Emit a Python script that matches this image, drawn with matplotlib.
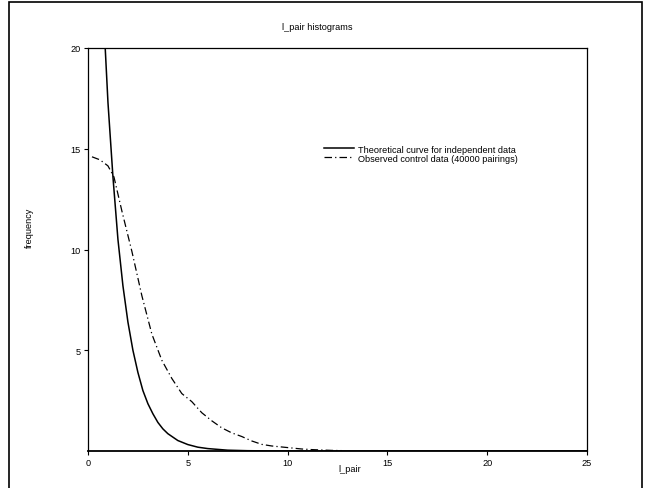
import matplotlib
matplotlib.use("Agg")
import matplotlib.pyplot as plt
from matplotlib.patches import Rectangle

plt.rcParams['font.family'] = ['Liberation Sans', 'DejaVu Sans']

# Theoretical curve for independent data
theo_x = [0.75, 1.0, 1.25, 1.5, 1.75, 2.0, 2.25, 2.5, 2.75, 3.0, 3.25, 3.5, 3.75, 4.0,
          4.5, 5.0, 5.5, 6.0, 7.0, 8.0, 9.0, 10.0, 12.0, 15.0, 25.0]
theo_y = [22.2, 17.3, 13.6, 10.5, 8.2, 6.4, 5.0, 3.9, 3.0, 2.35, 1.85, 1.42, 1.1, 0.86,
          0.52, 0.32, 0.19, 0.12, 0.04, 0.015, 0.005, 0.002, 0.0, 0.0, 0.0]

# Observed control data (40000 pairings)
obs_x = [0.2, 0.6, 1.0, 1.3, 1.7, 2.2, 2.7, 3.2, 3.7, 4.2, 4.7, 5.2, 5.7, 6.2, 6.7,
         7.2, 7.7, 8.2, 8.7, 9.2, 9.7, 10.2, 10.7, 11.2, 11.7, 12.2, 12.7]
obs_y = [14.6, 14.45, 14.15, 13.6, 11.9, 9.9, 7.7, 5.8, 4.5, 3.6, 2.85, 2.45, 1.9, 1.5, 1.15,
         0.9, 0.72, 0.5, 0.33, 0.25, 0.2, 0.15, 0.1, 0.07, 0.05, 0.03, 0.02]

x_ticks = [0, 5, 10, 15, 20, 25]
y_ticks = [5, 10, 15, 20]

fig = plt.figure(figsize=(6.45, 4.89), dpi=100)
W, H = 645, 489
ax = fig.add_axes([88 / W, 1 - 452 / H, (587 - 88) / W, (452 - 49) / H])

fs = 6.6
ax.plot(theo_x, theo_y, color='black', lw=1.1, solid_joinstyle='round',
        label='Theoretical curve for independent data')
ax.plot(obs_x, obs_y, color='black', lw=0.9, dashes=(6, 2.5, 1, 2.5),
        label='Observed control data (40000 pairings)')

ax.set_xlim(0, 25)
ax.set_ylim(0, 20)
ax.set_xticks(x_ticks)
ax.set_yticks(y_ticks)
ax.tick_params(direction='out', length=3, width=0.8, labelsize=fs, pad=2)
for s in ax.spines.values():
    s.set_linewidth(0.9)
ax.spines['bottom'].set_linewidth(1.3)

fig.text(317 / W, 1 - 28 / H, 'l_pair histograms', fontsize=fs,
         ha='center', va='center')
fig.text(350 / W, 1 - 470 / H, 'l_pair', fontsize=fs, ha='center', va='center')
fig.text(29 / W, 1 - 228 / H, 'frequency', fontsize=fs, ha='center', va='center',
         rotation=90)

leg = ax.legend(loc='upper left', bbox_to_anchor=((319 - 88) / 499, (452 - 141) / 403),
                frameon=False, fontsize=fs, handlelength=3.3, handletextpad=0.4,
                labelspacing=0.0, borderpad=0)

fig.add_artist(Rectangle((9 / W, -0.1), (642 - 9) / W, 1 - 3 / H + 0.1,
                         transform=fig.transFigure, fill=False,
                         edgecolor='black', lw=1.2, clip_on=False))

fig.savefig('out.png', dpi=100)
